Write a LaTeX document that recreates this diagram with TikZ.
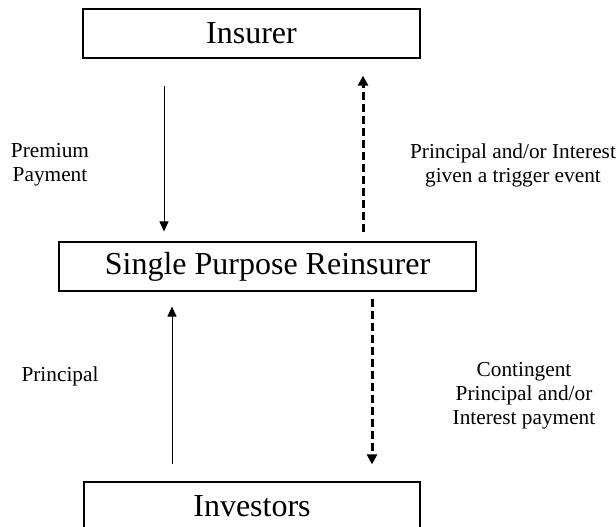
\documentclass[tikz,border=0pt]{standalone}
\usepackage{fontspec}
\setmainfont{Liberation Serif}
\usetikzlibrary{arrows.meta}
\begin{document}
\begin{tikzpicture}[x=1pt,y=-1pt,
  box/.style={draw, line width=1.2pt, inner sep=0pt, minimum height=49pt,
    font=\fontsize{32}{38}\selectfont},
  lbl/.style={inner sep=0pt, align=center, font=\fontsize{21.3}{24}\selectfont},
  solidflow/.style={line width=1pt, -{Triangle[length=10pt,width=9pt]}},
  dashflow/.style={line width=3pt, dash pattern=on 8pt off 4pt,
    -{Triangle[length=10pt,width=10pt]}}]
\useasboundingbox (0,0) rectangle (616,527);
\fill[white] (0,0) rectangle (616,527);
% boxes
\node[box, minimum width=337pt] (ins) at (251.5,33.5) {Insurer};
\node[box, minimum width=417pt] (spr) at (267.5,266.5) {Single Purpose Reinsurer};
\node[box, minimum width=336pt] (inv) at (252,506.5) {Investors};
% lanes
\coordinate (laneA) at (164,0);
\coordinate (laneB) at (363,0);
\coordinate (laneC) at (172,0);
\coordinate (laneD) at (372,0);
% connectors
\draw[solidflow, shorten <=27pt, shorten >=10pt] (ins.south -| laneA) -- (spr.north -| laneA);
\draw[dashflow, shorten <=9pt, shorten >=17pt] (spr.north -| laneB) -- (ins.south -| laneB);
\draw[solidflow, shorten <=17pt, shorten >=15pt] (inv.north -| laneC) -- (spr.south -| laneC);
\draw[dashflow, shorten <=7pt, shorten >=17pt] (spr.south -| laneD) -- (inv.north -| laneD);
% labels
\node[lbl, anchor=north] (lprem) at (50,143.4) {Premium\\Payment};
\node[lbl, anchor=north] (ltrig) at (513,143.4) {Principal and/or Interest\\given a trigger event};
\node[lbl, anchor=base] (lprin) at (60,381) {Principal};
\node[lbl, anchor=north] (lcont) at (524,362.6) {Contingent\\Principal and/or\\Interest payment};
\end{tikzpicture}
\end{document}
